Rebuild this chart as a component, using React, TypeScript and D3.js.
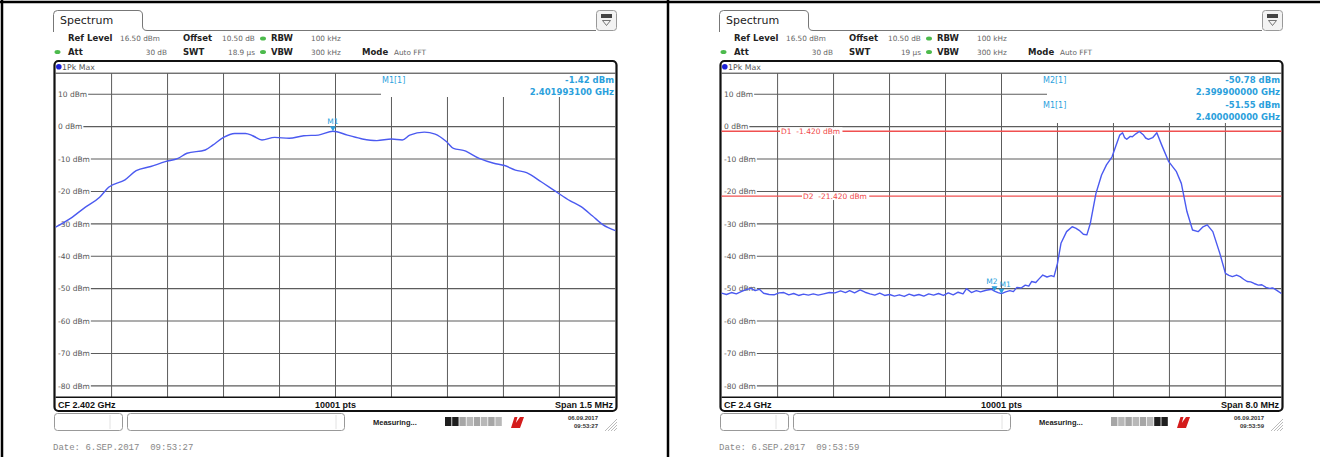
import * as d3 from "d3";

// Two R&S spectrum analyser screenshots side by side (2.4 GHz band).

const W = 1320;
const H = 457;

const REF_LEVEL = 16.5;
const RANGE_DB = 100;
const LEVEL_TICKS = [10, 0, -10, -20, -30, -40, -50, -60, -70, -80];

// left screen: CF 2.402 GHz, span 1.5 MHz (offset from CF in kHz)
const LEFT_FREQ_KHZ = [
  -750, -710, -671, -632, -608, -564, -534, -495, -456, -422, -398, -349, -329, -300, -270,
  -241, -222, -197, -163, -124, -85, -46, -7, 32, 72, 111, 150, 179, 199, 238, 267, 297, 316,
  345, 385, 424, 453, 482, 512, 551, 590, 629, 658, 688, 717, 750,
];
const LEFT_LEVEL_DBM = [
  -31.0, -28.3, -24.9, -21.8, -18.7, -16.4, -13.6, -12.3, -10.8, -9.8, -8.2, -7.2, -5.7, -3.3,
  -2.1, -2.1, -2.8, -4.1, -3.3, -3.6, -2.8, -2.6, -1.42, -2.6, -3.8, -4.3, -3.8, -4.1, -2.6, -1.7,
  -2.3, -4.6, -6.7, -7.4, -9.8, -11.3, -12.0, -13.4, -14.2, -17.0, -20.0, -22.9, -24.7, -27.5,
  -30.3, -32.1,
];

// right screen: CF 2.4 GHz, span 8 MHz (offset from CF in MHz)
const RIGHT_FREQ_MHZ = [
  -4.0, -3.93, -3.86, -3.79, -3.72, -3.65, -3.58, -3.52, -3.46, -3.4, -3.32, -3.25, -3.18, -3.11,
  -3.04, -2.97, -2.9, -2.83, -2.76, -2.69, -2.62, -2.54, -2.46, -2.38, -2.3, -2.23, -2.17, -2.1,
  -2.02, -1.95, -1.88, -1.81, -1.74, -1.67, -1.6, -1.53, -1.46, -1.39, -1.32, -1.25, -1.18, -1.11,
  -1.04, -0.97, -0.9, -0.83, -0.76, -0.69, -0.62, -0.55, -0.5, -0.43, -0.36, -0.3, -0.22, -0.14,
  -0.1, -0.05, 0, 0.06, 0.12, 0.17, 0.22, 0.28, 0.34, 0.39, 0.43, 0.49, 0.54, 0.59, 0.65, 0.71,
  0.75, 0.8, 0.85, 0.93, 1.01, 1.06, 1.11, 1.17, 1.22, 1.27, 1.35, 1.43, 1.5, 1.58, 1.63, 1.69,
  1.73, 1.76, 1.79, 1.84, 1.87, 1.92, 1.97, 2.03, 2.06, 2.1, 2.16, 2.22, 2.29, 2.39, 2.5, 2.57,
  2.65, 2.73, 2.81, 2.88, 2.94, 3.02, 3.12, 3.2, 3.25, 3.3, 3.36, 3.41, 3.46, 3.51, 3.56, 3.61,
  3.67, 3.72, 3.78, 3.83, 3.88, 3.94, 4.0,
];
const RIGHT_LEVEL_DBM = [
  -51.4, -51.8, -51.2, -51.6, -50.9, -50.3, -49.9, -50.6, -50.2, -51.4, -51.8, -51.9, -51.3, -51.2,
  -51.9, -51.5, -52.1, -51.7, -52.0, -51.6, -52.0, -51.6, -51.2, -51.3, -50.7, -51.2, -50.6, -51.3,
  -50.4, -51.1, -51.6, -52.0, -51.4, -52.1, -51.8, -52.3, -51.9, -52.4, -51.7, -52.2, -51.8, -52.3,
  -51.6, -52.0, -51.5, -52.1, -51.3, -51.9, -51.1, -51.6, -50.0, -51.2, -50.6, -51.0, -50.5, -50.2,
  -50.78, -51.2, -51.55, -51.0, -50.6, -50.9, -49.6, -49.8, -48.9, -49.2, -47.8, -48.1, -46.9, -45.8,
  -46.4, -46.0, -46.3, -42.2, -36.0, -32.4, -30.9, -31.3, -32.0, -33.2, -33.4, -29.8, -20.6, -14.9,
  -11.8, -9.3, -6.2, -2.6, -1.9, -3.4, -3.9, -3.0, -3.1, -2.2, -1.5, -2.6, -3.5, -3.9, -3.4, -1.9,
  -5.7, -10.8, -13.9, -17.5, -26.2, -31.9, -32.4, -30.9, -30.3, -32.4, -39.1, -45.3, -45.9, -46.3,
  -45.8, -46.3, -47.1, -47.8, -47.9, -48.4, -48.9, -48.8, -49.6, -49.9, -49.8, -50.6, -51.5,
];

const LEFT_MARKERS = [{ name: "M1", f: -6.9, v: -1.42 }];
const RIGHT_MARKERS = [
  { name: "M2", f: -0.1, v: -50.78 },
  { name: "M1", f: 0, v: -51.55 },
];
const LEFT_READOUT = [
  ["M1[1]", "-1.42 dBm"],
  ["", "2.401993100 GHz"],
];
const RIGHT_READOUT = [
  ["M2[1]", "-50.78 dBm"],
  ["", "2.399900000 GHz"],
  ["M1[1]", "-51.55 dBm"],
  ["", "2.400000000 GHz"],
];
const RIGHT_DISPLAY_LINES = [
  { name: "D1", v: -1.42, text: "-1.420 dBm", x: 115 },
  { name: "D2", v: -21.42, text: "-21.420 dBm", x: 137 },
];

type Marker = { name: string; f: number; v: number };
type DLine = { name: string; v: number; text: string; x: number };
type PanelCfg = {
  dx: number;
  halfSpan: number;
  freq: number[];
  level: number[];
  smooth: boolean;
  markers: Marker[];
  readout: string[][];
  readoutX: number;
  boxBottom: number;
  dlines: DLine[];
  swt: string;
  cf: string;
  span: string;
  time: string;
  darkSeg: number[];
};

const PANELS: PanelCfg[] = [
  {
    dx: 0, halfSpan: 750, freq: LEFT_FREQ_KHZ, level: LEFT_LEVEL_DBM, smooth: true,
    markers: LEFT_MARKERS, readout: LEFT_READOUT, readoutX: 382, boxBottom: 97, dlines: [],
    swt: "18.9 µs", cf: "CF 2.402 GHz", span: "Span 1.5 MHz", time: "09:53:27", darkSeg: [0, 1],
  },
  {
    dx: 666, halfSpan: 4, freq: RIGHT_FREQ_MHZ, level: RIGHT_LEVEL_DBM, smooth: false,
    markers: RIGHT_MARKERS, readout: RIGHT_READOUT, readoutX: 377, boxBottom: 123,
    dlines: RIGHT_DISPLAY_LINES,
    swt: "19 µs", cf: "CF 2.4 GHz", span: "Span 8.0 MHz", time: "09:53:59", darkSeg: [6, 7],
  },
];

const SANS = "'DejaVu Sans', sans-serif";
const ARIAL = "'Liberation Sans', Arial, sans-serif";
const MONO = "'Liberation Mono', monospace";
const MARK = "#2b9fdc";
const TRACE = "#4b5af0";
const GRID = "#5c5c5c";

// rough DejaVu Sans advance widths, to start the grid line right after its label
const ADV: Record<string, number> = { "-": 0.361, " ": 0.318, d: 0.635, B: 0.686, m: 0.974 };
const textW = (s: string, size: number) =>
  s.split("").reduce((a, c) => a + (ADV[c] ?? 0.636), 0) * size;

const X0 = 55.6;
const X1 = 615.4;
const Y_TOP = 73.2;
const Y_BOT = 397.2;
const BOX_X = 381;

function Panel({ cfg }: { cfg: PanelCfg }) {
  const x = d3.scaleLinear().domain([-cfg.halfSpan, cfg.halfSpan]).range([X0, X1]);
  const y = d3.scaleLinear().domain([REF_LEVEL - RANGE_DB, REF_LEVEL]).range([Y_BOT, Y_TOP]);
  const pts = cfg.freq.map((f, i) => [f, cfg.level[i]] as [number, number]);
  const line = d3
    .line<[number, number]>()
    .x((d) => x(d[0]))
    .y((d) => y(d[1]))
    .curve(cfg.smooth ? d3.curveMonotoneX : d3.curveLinear);
  const vTicks = d3.range(1, 10).map((i) => -cfg.halfSpan + (i * cfg.halfSpan) / 5);
  const labelSize = 7.5;
  const lbl = { fontWeight: "bold", fontSize: 8.5, fill: "#222" } as const;

  return (
    <g transform={`translate(${cfg.dx},0)`}>
      {/* tab + top rule */}
      <path
        d="M53.5,32 V14.5 Q53.5,10.5 57.5,10.5 H138 Q142.5,10.5 142.5,15 V26 Q142.5,30.5 147,30.5 H596"
        fill="none"
        stroke="#777"
        strokeWidth={1}
      />
      <text x={60} y={24} fontFamily={SANS} fontSize={11} fill="#222">Spectrum</text>
      <rect x={596.5} y={10.5} width={20} height={20} rx={3} fill="#f3f3f3" stroke="#999" />
      <rect x={601} y={14} width={11} height={4} fill="#444" />
      <path d="M602.5,20.5 H610.5 L606.5,25.5 Z" fill="none" stroke="#555" strokeWidth={0.8} />

      {/* settings header */}
      <g fontFamily={SANS} fontSize={7.3} fill="#666">
        <text x={68} y={41} {...lbl}>Ref Level</text>
        <text x={120} y={41}>16.50 dBm</text>
        <text x={183} y={41} {...lbl}>Offset</text>
        <text x={222} y={41}>10.50 dB</text>
        <ellipse cx={263} cy={38.5} rx={3} ry={2} fill="#4cba4c" />
        <text x={271} y={41} {...lbl}>RBW</text>
        <text x={311} y={41}>100 kHz</text>

        <ellipse cx={57.5} cy={52} rx={3} ry={2} fill="#4cba4c" />
        <text x={68} y={55} {...lbl}>Att</text>
        <text x={167} y={55} textAnchor="end">30 dB</text>
        <text x={183} y={55} {...lbl}>SWT</text>
        <text x={255} y={55} textAnchor="end">{cfg.swt}</text>
        <ellipse cx={263} cy={52} rx={3} ry={2} fill="#4cba4c" />
        <text x={271} y={55} {...lbl}>VBW</text>
        <text x={311} y={55}>300 kHz</text>
        <text x={362} y={55} {...lbl}>Mode</text>
        <text x={394} y={55}>Auto FFT</text>
      </g>

      {/* diagram frame */}
      <rect x={54.5} y={61} width={562} height={350} rx={4} fill="#fff" stroke="#111" strokeWidth={2.2} />
      <line x1={X0} x2={X1} y1={Y_TOP} y2={Y_TOP} stroke="#333" strokeWidth={1} />
      <circle cx={58.8} cy={66.8} r={2.8} fill="#1c22d8" />
      <text x={62} y={70} fontFamily={SANS} fontSize={7.8} fill="#555">1Pk Max</text>

      {/* grid */}
      {vTicks.map((t) => (
        <line
          key={"v" + t}
          x1={x(t)}
          x2={x(t)}
          y1={x(t) > BOX_X ? cfg.boxBottom : Y_TOP}
          y2={Y_BOT}
          stroke={GRID}
          strokeWidth={1}
        />
      ))}
      {LEVEL_TICKS.map((t) => {
        const lab = `${t} dBm`;
        const yy = y(t);
        return (
          <g key={"h" + t}>
            <line
              x1={58 + textW(lab, labelSize) + 1}
              x2={yy < cfg.boxBottom ? BOX_X : X1}
              y1={yy}
              y2={yy}
              stroke={GRID}
              strokeWidth={1.1}
            />
            <text x={58} y={yy + 2.7} fontFamily={SANS} fontSize={labelSize} fill="#555">
              {lab}
            </text>
          </g>
        );
      })}

      {/* display lines */}
      {cfg.dlines.map((d) => {
        const label = `${d.name}  ${d.text}`;
        return (
          <g key={d.name}>
            <line x1={X0} x2={X1} y1={y(d.v)} y2={y(d.v)} stroke="#f05050" strokeWidth={1.3} />
            <rect x={d.x - 1} y={y(d.v) - 4} width={textW(label, 7.5) + 2} height={8} fill="#fff" />
            <text x={d.x} y={y(d.v) + 2.7} fontFamily={SANS} fontSize={7.5} fill="#f04848" xmlSpace="preserve">
              {label}
            </text>
          </g>
        );
      })}

      {/* marker readout */}
      {cfg.readout.map((r, i) => (
        <g key={"r" + i} fontFamily={SANS} fill={MARK}>
          <text x={cfg.readoutX} y={83 + i * 12.3} fontSize={8}>{r[0]}</text>
          <text x={614} y={83 + i * 12.3} fontSize={8.5} fontWeight="bold" textAnchor="end">
            {r[1]}
          </text>
        </g>
      ))}

      {/* trace */}
      <path d={line(pts) ?? ""} fill="none" stroke={TRACE} strokeWidth={1.4} strokeLinejoin="round" />

      {/* markers */}
      {cfg.markers.map((m, i) => {
        const mx = x(m.f);
        const my = y(m.v);
        const many = cfg.markers.length > 1;
        const anchor = !many ? "middle" : i === 0 ? "end" : "start";
        const tx = !many ? mx : i === 0 ? mx + 3 : mx - 2;
        return (
          <g key={m.name}>
            <path d={`M${mx - 3},${my - 5} H${mx + 3} L${mx},${my} Z`} fill={MARK} />
            <text x={tx} y={my - 7} textAnchor={anchor} fontFamily={SANS} fontSize={7.5} fill={MARK}>
              {m.name}
            </text>
          </g>
        );
      })}

      {/* bottom info bar */}
      <line x1={X0} x2={X1} y1={Y_BOT} y2={Y_BOT} stroke="#111" strokeWidth={1.5} />
      <g fontFamily={ARIAL} fontSize={9} fontWeight="bold" fill="#111">
        <text x={58} y={407.5}>{cfg.cf}</text>
        <text x={335.5} y={407.5} textAnchor="middle">10001 pts</text>
        <text x={613} y={407.5} textAnchor="end">{cfg.span}</text>
      </g>

      {/* status bar */}
      <rect x={54.5} y={413.5} width={68} height={17} rx={3} fill="#fff" stroke="#999" />
      <line x1={110} x2={110} y1={415} y2={429} stroke="#e2e2e2" />
      <rect x={127.5} y={413.5} width={217} height={17} rx={3} fill="#fff" stroke="#999" />
      <line x1={336} x2={336} y1={415} y2={429} stroke="#e2e2e2" />
      <text x={373} y={425} fontFamily={ARIAL} fontSize={7.5} fontWeight="bold" fill="#222">
        Measuring...
      </text>
      {d3.range(8).map((i) => (
        <rect
          key={"s" + i}
          x={445 + i * 7.2}
          y={417}
          width={6.4}
          height={9}
          fill={cfg.darkSeg.includes(i) ? "#1e1e1e" : i % 2 ? "#b8b8b8" : "#a6a6a6"}
        />
      ))}
      <path d="M511,428 L514.5,417 L517.5,417 L515.8,423 L520,417 L524,417 L520,428 Z" fill="#d41c1c" />
      <g fontFamily={ARIAL} fontSize={6} fontWeight="bold" fill="#333" textAnchor="end">
        <text x={598} y={420}>06.09.2017</text>
        <text x={598} y={427.5}>{cfg.time}</text>
      </g>
      {d3.range(4).map((i) => (
        <line
          key={"h" + i}
          x1={605 + i * 3}
          y1={431}
          x2={617}
          y2={419 + i * 3}
          stroke="#aaa"
          strokeWidth={0.8}
        />
      ))}

      <text x={53} y={450} fontFamily={MONO} fontSize={9} fill="#888" xmlSpace="preserve">
        {`Date: 6.SEP.2017  ${cfg.time}`}
      </text>
    </g>
  );
}

export default function App() {
  return (
    <div style={{ width: W, height: H }}>
      <style>{`body{margin:0;background:#fff}`}</style>
      <svg width={W} height={H} style={{ display: "block" }}>
        <rect width={W} height={H} fill="#fff" />
        <line x1={0} x2={W} y1={2} y2={2} stroke="#000" strokeWidth={2.5} />
        <line x1={2} x2={2} y1={0} y2={H} stroke="#000" strokeWidth={2.5} />
        <line x1={668} x2={668} y1={0} y2={H} stroke="#000" strokeWidth={2.5} />
        {PANELS.map((p) => (
          <Panel key={p.dx} cfg={p} />
        ))}
      </svg>
    </div>
  );
}
